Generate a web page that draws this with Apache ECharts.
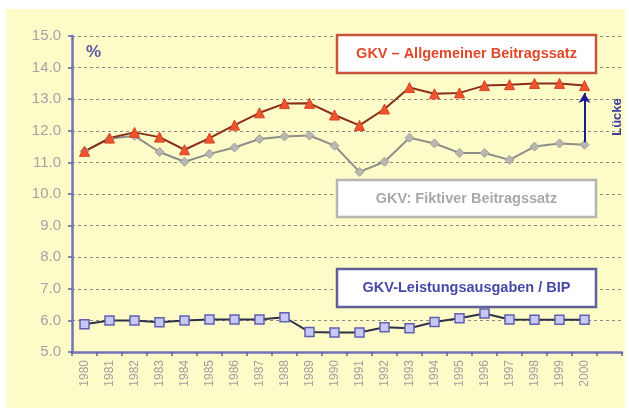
<!DOCTYPE html>
<html><head><meta charset="utf-8">
<script src="https://cdn.jsdelivr.net/npm/echarts@6/dist/echarts.min.js"></script>
<style>html,body{margin:0;padding:0;background:#fff}#c{width:629px;height:411px}</style>
</head><body><div id="c"></div>
<script>
const years = ['1980','1981','1982','1983','1984','1985','1986','1987','1988','1989','1990','1991','1992','1993','1994','1995','1996','1997','1998','1999','2000',''];
const allgemeiner = [11.35,11.77,11.95,11.8,11.4,11.77,12.18,12.57,12.86,12.87,12.5,12.17,12.69,13.37,13.17,13.2,13.43,13.46,13.5,13.5,13.43];
const fiktiver = [11.35,11.75,11.84,11.33,11.02,11.27,11.47,11.74,11.82,11.85,11.53,10.7,11.02,11.78,11.6,11.3,11.3,11.08,11.5,11.6,11.56];
const leistung = [5.88,6.0,6.0,5.94,6.0,6.03,6.03,6.03,6.1,5.63,5.62,5.62,5.78,5.75,5.95,6.07,6.22,6.03,6.02,6.02,6.02];
const yTicks = {min:5, max:15, interval:1};

const chart = echarts.init(document.getElementById('c'));
const font = 'Liberation Sans, Arial, sans-serif';
function box(x,y,w,h,stroke,text,color){
  return [
    {type:'rect', z:100, shape:{x:x,y:y,width:w,height:h}, style:{fill:'#ffffff', stroke:stroke, lineWidth:2.5}},
    {type:'text', z:101, x:x+w/2, y:y+h/2, style:{text:text, fill:color, font:'bold 14.5px '+font, align:'center', verticalAlign:'middle'}}
  ];
}
chart.setOption({
  animation:false,
  backgroundColor:'#ffffff',
  graphic:[
    {type:'rect', z:-10, silent:true, shape:{x:6,y:9,width:619,height:399}, style:{fill:'#fdfcc9'}},
    {type:'text', z:101, x:86, y:44, style:{text:'%', fill:'#5a5aa8', font:'bold 17px '+font}},
    ...box(337,35,259,38,'#c8553a','GKV – Allgemeiner Beitragssatz','#e0482a'),
    ...box(337,180,259,37,'#b4b4b0','GKV: Fiktiver Beitragssatz','#a8a8a4'),
    ...box(337,269,259,38,'#606098','GKV-Leistungsausgaben / BIP','#4848a8'),
    {type:'text', z:101, x:617, y:117, rotation:Math.PI/2, style:{text:'Lücke', fill:'#4040a0', font:'bold 13px '+font, align:'center', verticalAlign:'middle'}}
  ],
  grid:{left:72, right:7, top:36, bottom:59},
  xAxis:{type:'category', data:years, boundaryGap:true,
    axisLine:{lineStyle:{color:'#7272b8', width:2.5}},
    axisTick:{show:true, interval:0, length:4, lineStyle:{color:'#6060a8', width:1.5}},
    axisLabel:{interval:0, rotate:90, fontSize:12, color:'#a0a0a0', fontFamily:font, margin:8},
    splitLine:{show:false}},
  yAxis:{type:'value', min:yTicks.min, max:yTicks.max, interval:yTicks.interval,
    axisLine:{show:true, lineStyle:{color:'#7272b8', width:2.5}},
    axisTick:{show:true, length:4, lineStyle:{color:'#6060a8', width:1.5}},
    axisLabel:{formatter:v=>v.toFixed(1), fontSize:15, color:'#a4a4a4', fontFamily:font, margin:11},
    splitLine:{lineStyle:{type:[3,3], color:'#8a8a80', width:1}}},
  series:[
    {name:'Fiktiver', type:'line', data:fiktiver, symbol:'diamond', symbolSize:9,
      lineStyle:{color:'#8e8e88', width:2}, itemStyle:{color:'#b8b8b2', borderColor:'#a0a09a', borderWidth:1},
      markLine:{silent:true, symbol:['none','arrow'], symbolSize:[9,10], label:{show:false},
        lineStyle:{color:'#1c1c90', width:2, type:'solid'},
        data:[[{coord:[20,fiktiver[20]+0.08]},{coord:[20,13.2]}]]}},
    {name:'Allgemeiner', type:'line', data:allgemeiner, symbol:'triangle', symbolSize:10,
      lineStyle:{color:'#8a2e18', width:2}, itemStyle:{color:'#ec5530', borderColor:'#d84020', borderWidth:1}},
    {name:'Leistung', type:'line', data:leistung, symbol:'rect', symbolSize:9,
      lineStyle:{color:'#303048', width:2}, itemStyle:{color:'#c8c8f4', borderColor:'#6060b0', borderWidth:1.5}}
  ]
});
</script></body></html>
